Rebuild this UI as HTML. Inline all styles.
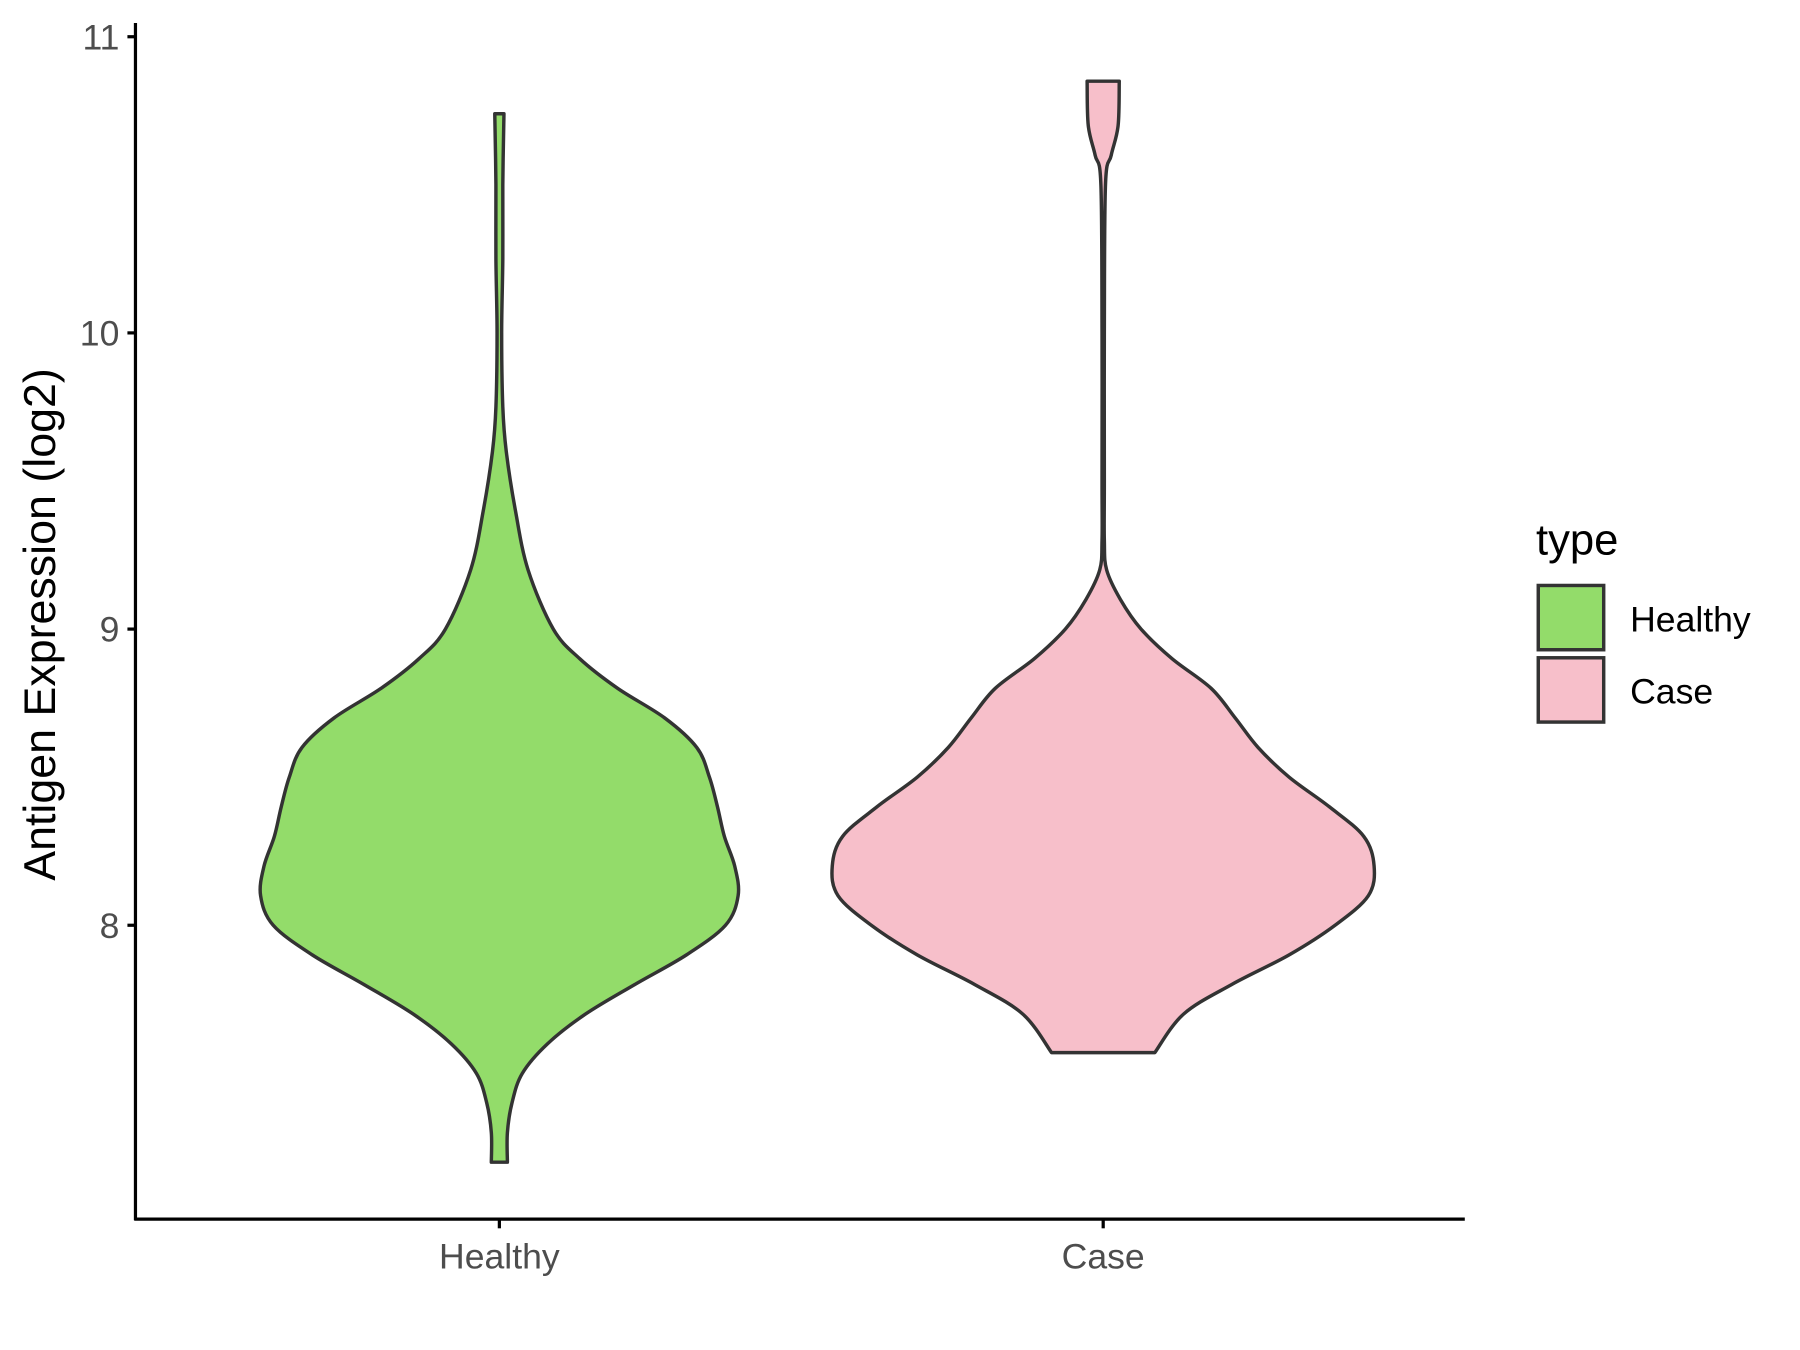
<!DOCTYPE html>
<html><head><meta charset="utf-8"><style>html,body{margin:0;padding:0;background:#fff}svg{display:block}text{font-family:"Liberation Sans",sans-serif}</style></head>
<body>
<svg id="chart" width="1800" height="1350" viewBox="0 0 1568 1176" preserveAspectRatio="none" xmlns="http://www.w3.org/2000/svg">
<g id="plot"></g>
<line x1="118" y1="20" x2="118" y2="1063" stroke="#000" stroke-width="2.8"/>
<line x1="117" y1="1062" x2="1276" y2="1062" stroke="#000" stroke-width="2.8"/>
<g id="axes"></g>
<text transform="translate(48,544) rotate(-90)" text-anchor="middle" font-size="39" fill="#000">Antigen Expression (log2)</text>
<g>
<text x="1338" y="483" font-size="38" fill="#000">type</text>
<rect x="1340" y="510" width="57" height="56" fill="#93DC6A" stroke="#333" stroke-width="3"/>
<text x="1420" y="550" font-size="31" fill="#000">Healthy</text>
<rect x="1340" y="573" width="57" height="56" fill="#F7BFCA" stroke="#333" stroke-width="3"/>
<text x="1420" y="613" font-size="31" fill="#000">Case</text>
</g>
</svg>
<script>
const categories = ["Healthy", "Case"];
const colors = ["#93DC6A", "#F7BFCA"];
const yTicks = [8, 9, 10, 11];
const healthyValues = [10.74,10.5,10.25,10.0,9.75,9.6,9.4,9.2,9.0,8.9,8.8,8.7,8.6,8.5,8.4,8.3,8.2,8.1,8.0,7.9,7.8,7.7,7.6,7.5,7.4,7.3,7.2];
const healthyWidths = [4,3,3,2,3,6,14,25,47,70,103,144,172,183,190,196,205,208,197,163,118,75,42,20,11,7,7];
const caseValues = [10.85,10.7,10.6,10.5,10.0,9.5,9.3,9.2,9.1,9.0,8.9,8.8,8.7,8.6,8.5,8.4,8.3,8.2,8.1,8.0,7.9,7.8,7.7,7.57];
const caseWidths = [14,13,7,2,1,1,1,3,15,33,60,94,115,135,162,197,227,236,231,202,162,112,70,45];

const NS = "http://www.w3.org/2000/svg";
function yScale(v){ return 806 - (v - 8) * 258; }
function xScale(i){ return 435 + i * 526; }
function wScale(w){ return w; }

function smoothPath(pts){
  let d = "M" + pts[0][0] + "," + pts[0][1];
  for (let i = 0; i < pts.length - 1; i++) {
    const p0 = pts[Math.max(0,i-1)], p1 = pts[i], p2 = pts[i+1], p3 = pts[Math.min(pts.length-1,i+2)];
    const c1x = p1[0] + (p2[0]-p0[0])/6, c1y = p1[1] + (p2[1]-p0[1])/6;
    const c2x = p2[0] - (p3[0]-p1[0])/6, c2y = p2[1] - (p3[1]-p1[1])/6;
    d += " C" + c1x + "," + c1y + " " + c2x + "," + c2y + " " + p2[0] + "," + p2[1];
  }
  return d;
}
function violinPath(cx, vals, widths){
  const right = vals.map((v,i)=>[cx + wScale(widths[i]), yScale(v)]);
  const left = vals.map((v,i)=>[cx - wScale(widths[i]), yScale(v)]).reverse();
  let d = smoothPath(right);
  d += " L" + left[0][0] + "," + left[0][1];
  d += smoothPath(left).replace(/^M[^ ]+/, "");
  return d + " Z";
}
const plot = document.getElementById("plot");
const series = [[healthyValues, healthyWidths], [caseValues, caseWidths]];
series.forEach((s, i) => {
  const p = document.createElementNS(NS, "path");
  p.setAttribute("d", violinPath(xScale(i), s[0], s[1]));
  p.setAttribute("fill", colors[i]);
  p.setAttribute("stroke", "#333");
  p.setAttribute("stroke-width", "3");
  p.setAttribute("stroke-linejoin", "round");
  
  
  plot.appendChild(p);
});
const axes = document.getElementById("axes");
yTicks.forEach(t => {
  const y = yScale(t);
  const l = document.createElementNS(NS, "line");
  l.setAttribute("x1", 111); l.setAttribute("x2", 118); l.setAttribute("y1", y); l.setAttribute("y2", y);
  l.setAttribute("stroke", "#000"); l.setAttribute("stroke-width", "2.8");
  
  
  axes.appendChild(l);
  const tx = document.createElementNS(NS, "text");
  tx.setAttribute("x", 104); tx.setAttribute("y", y + 11);
  tx.setAttribute("text-anchor", "end"); tx.setAttribute("font-size", "31"); tx.setAttribute("fill", "#4d4d4d");
  tx.textContent = t;
  
  
  axes.appendChild(tx);
});
categories.forEach((c, i) => {
  const x = xScale(i);
  const l = document.createElementNS(NS, "line");
  l.setAttribute("x1", x); l.setAttribute("x2", x); l.setAttribute("y1", 1062); l.setAttribute("y2", 1070);
  l.setAttribute("stroke", "#000"); l.setAttribute("stroke-width", "2.8");
  
  
  axes.appendChild(l);
  const tx = document.createElementNS(NS, "text");
  tx.setAttribute("x", x); tx.setAttribute("y", 1105);
  tx.setAttribute("text-anchor", "middle"); tx.setAttribute("font-size", "31"); tx.setAttribute("fill", "#4d4d4d");
  tx.textContent = c;
  
  
  axes.appendChild(tx);
});
</script>
</body></html>
